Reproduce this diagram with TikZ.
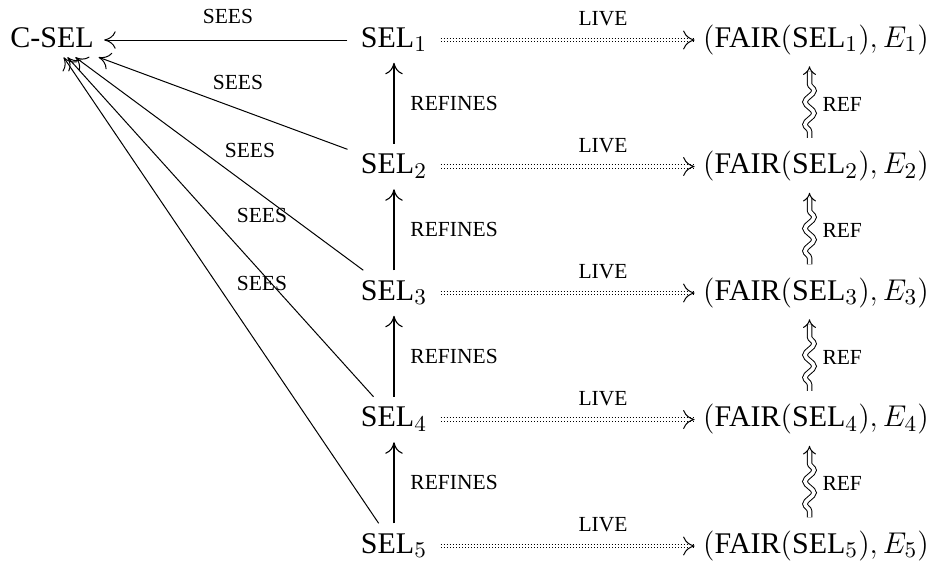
\documentclass[tikz,border=0pt]{standalone}
\usepackage[no-math]{fontspec}
\setmainfont{Liberation Serif}
\DeclareMathSizes{12}{12}{8.8}{6.5}
\usetikzlibrary{arrows.meta,decorations.pathmorphing}

\tikzset{
  obj/.style={font=\fontsize{12}{14}\selectfont, text height=7.9pt, text depth=2.3pt,
              anchor=base, outer sep=0pt},
  cselbox/.style={obj, inner xsep=4.2pt, inner ysep=1.8pt},
  selbox/.style={obj, inner xsep=5.4pt, inner ysep=4pt},
  fairbox/.style={obj, inner xsep=3.4pt, inner ysep=4pt},
  lbl/.style={font=\fontsize{8.6}{10}\selectfont, inner sep=0pt},
  cmhead/.tip={Computer Modern Rightarrow[length=4.6pt, width=7pt]},
  livehead/.tip={Computer Modern Rightarrow[length=4.6pt, width=7.6pt]},
  seesarrow/.style={draw, line width=0.4pt, -cmhead},
  refinesarrow/.style={draw, line width=0.45pt, -cmhead},
  livedots/.style={draw, line width=0.35pt, double, double distance=1pt,
                   dash pattern=on 0.35pt off 0.85pt},
  livetip/.style={draw, line width=0.4pt, -livehead},
  refwave/.style={draw, line width=0.4pt, double, double distance=1.4pt,
                  decorate, decoration={snake, amplitude=1.8pt, segment length=9pt,
                  pre length=2.5pt, post length=3.5pt}, -{Implies}},
}

\begin{document}
\begin{tikzpicture}[x=0.4pt, y=-0.4pt]
\useasboundingbox (0,0) rectangle (936,575);

% objects
\node[cselbox] (csel) at (52,47) {C-SEL};
\foreach \i in {1,...,5} {
  \pgfmathsetmacro{\yb}{47+126.5*(\i-1)}
  \node[selbox]  (sel\i)  at (394,\yb) {SEL$_{\i}$};
  \node[fairbox] (fair\i) at (816,\yb) {$(\mbox{FAIR}(\mbox{SEL}_{\i}), E_{\i})$};
}

% SEES arrows into C-SEL
\foreach \i in {1,...,5} {
  \path[seesarrow] (sel\i) -- (csel);
}
\node[lbl] (sees1) at (228,16)  {SEES};
\node[lbl] (sees2) at (238,82)  {SEES};
\node[lbl] (sees3) at (250,150) {SEES};
\node[lbl] (sees4) at (262,215) {SEES};
\node[lbl] (sees5) at (262,283) {SEES};

% LIVE arrows
\foreach \i in {1,...,5} {
  \pgfmathsetmacro{\yl}{19+126.5*(\i-1)}
  \path[livedots] (sel\i) -- ([xshift=-0.6pt]fair\i.west);
  \path[livetip] ([xshift=-1pt]fair\i.west) -- (fair\i.west);
  \node[lbl] (live\i) at (603,\yl) {LIVE};
}

% REFINES and REF arrows
\foreach \i [evaluate=\i as \j using int(\i+1)] in {1,...,4} {
  \pgfmathsetmacro{\ym}{103+126.5*(\i-1)}
  \path[refinesarrow] (sel\j) -- (sel\i);
  \node[lbl, anchor=west] (refines\i) at (410,\ym) {REFINES};
  \path[refwave] ([xshift=-2.6pt,yshift=2.4pt]fair\j.north) -- ([xshift=-2.6pt,yshift=-1.4pt]fair\i.south);
  \node[lbl, anchor=west] (ref\i) at (822,\ym+1) {REF};
}
\end{tikzpicture}
\end{document}
